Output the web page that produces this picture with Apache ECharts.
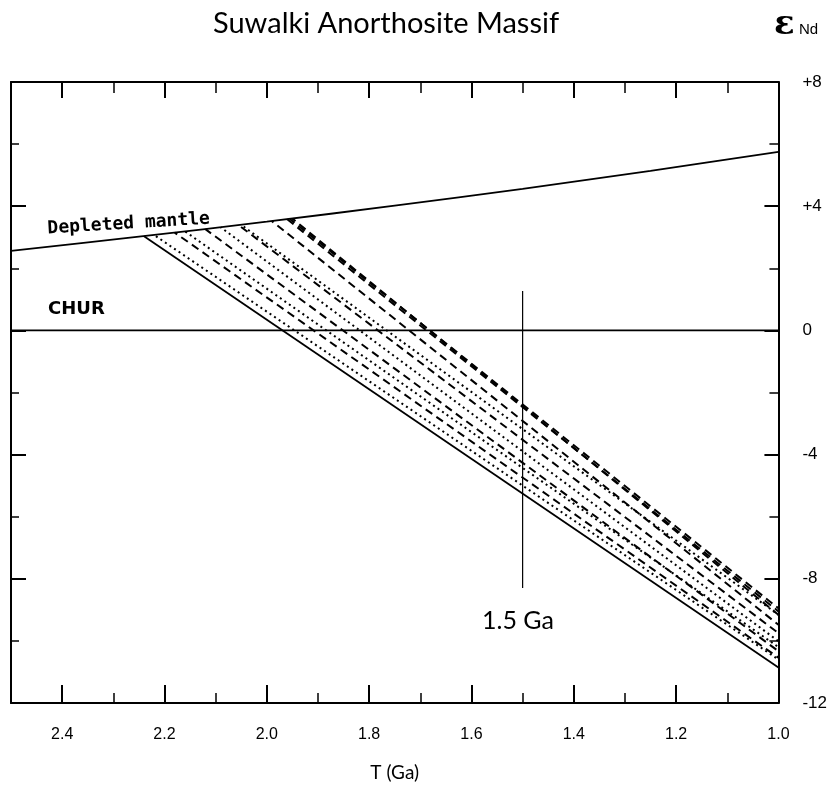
<!DOCTYPE html>
<html><head><meta charset="utf-8">
<script src="https://cdn.jsdelivr.net/npm/echarts@6/dist/echarts.min.js"></script>
<style>html,body{margin:0;padding:0;background:#fff}#c{width:830px;height:787px}</style>
</head><body><div id="c"></div>
<script>
// ---- data ----
const dmT   = [2.5, 2.25, 2.0, 1.75, 1.5, 1.25, 1.0];        // depleted mantle curve, T (Ga)
const dmEps = [2.56, 3.02, 3.5, 4.02, 4.56, 5.14, 5.75];     // eps Nd
const churT = [2.5, 1.0];
const churEps = [0, 0];
const refT = [1.5, 1.5];                                     // 1.5 Ga marker line
const refEps = [1.27, -8.3];
// sample evolution lines: start on DM curve, end at T = 1.0 Ga
const startT   = [1.96, 1.955, 1.95, 1.99, 2.05, 2.055, 2.09, 2.12, 2.16, 2.18, 2.22, 2.24];
const startEps = [3.58, 3.59, 3.60, 3.52, 3.40, 3.39, 3.32, 3.26, 3.19, 3.15, 3.07, 3.03];
const endT     = [1.0, 1.0, 1.0, 1.0, 1.0, 1.0, 1.0, 1.0, 1.0, 1.0, 1.0, 1.0];
const endEps   = [-9.05, -8.95, -9.16, -9.48, -9.16, -9.75, -10.01, -10.33, -10.2, -10.54, -10.6, -10.86];
const lineGroup = ['A', 'A', 'A', 'A', 'B', 'A', 'B', 'A', 'B', 'A', 'B', 'C'];
const yTickLabels = [-12, -8, -4, 0, 4, 8];

// ---- styles ----
const groupStyle = {
  A: {type: [8, 5], width: 2},
  B: {type: [2, 3.5], width: 2},
  C: {type: 'solid', width: 1.8}
};
const ink = '#000';

const chart = echarts.init(document.getElementById('c'), null, {renderer: 'canvas'});

const baseX = {type: 'value', min: 1.0, max: 2.5, inverse: true, splitLine: {show: false},
  axisLine: {onZero: false, lineStyle: {color: ink, width: 2}}};
const baseY = {type: 'value', min: -12, max: 8, splitLine: {show: false},
  axisLine: {onZero: false, lineStyle: {color: ink, width: 2}}};

const xAxis = [
  Object.assign({}, baseX, {position: 'bottom', interval: 0.2,
    axisTick: {inside: true, length: 18, lineStyle: {color: ink, width: 2}},
    axisLabel: {color: ink, fontSize: 16, fontFamily: 'Liberation Sans', margin: 24,
      formatter: v => (v > 2.45 ? '' : v.toFixed(1))},
    name: 'T (Ga)', nameLocation: 'middle', nameGap: 60,
    nameTextStyle: {color: ink, fontSize: 19, fontFamily: 'Lato'}}),
  Object.assign({}, baseX, {position: 'bottom', interval: 0.1,
    axisTick: {inside: true, length: 10, lineStyle: {color: ink, width: 1.5}},
    axisLabel: {show: false}, axisLine: {show: false, onZero: false}}),
  Object.assign({}, baseX, {position: 'top', interval: 0.2,
    axisTick: {inside: true, length: 16, lineStyle: {color: ink, width: 2}},
    axisLabel: {show: false}}),
  Object.assign({}, baseX, {position: 'top', interval: 0.1,
    axisTick: {inside: true, length: 11, lineStyle: {color: ink, width: 1.5}},
    axisLabel: {show: false}, axisLine: {show: false, onZero: false}})
];
const yAxis = [
  Object.assign({}, baseY, {position: 'left', interval: 4,
    axisTick: {inside: true, length: 15, lineStyle: {color: ink, width: 2}},
    axisLabel: {show: false}}),
  Object.assign({}, baseY, {position: 'left', interval: 2,
    axisTick: {inside: true, length: 8, lineStyle: {color: ink, width: 1.5}},
    axisLabel: {show: false}, axisLine: {show: false, onZero: false}}),
  Object.assign({}, baseY, {position: 'right', interval: 4,
    axisTick: {inside: true, length: 14, lineStyle: {color: ink, width: 2}},
    axisLabel: {color: ink, fontSize: 17, fontFamily: 'Liberation Sans', margin: 24, align: 'left',
      formatter: v => (yTickLabels.indexOf(v) < 0 ? '' : (v > 0 ? '+' + v : String(v)))}}),
  Object.assign({}, baseY, {position: 'right', interval: 2,
    axisTick: {inside: true, length: 9, lineStyle: {color: ink, width: 1.5}},
    axisLabel: {show: false}, axisLine: {show: false, onZero: false}})
];

const zip = (a, b) => a.map((v, i) => [v, b[i]]);
const series = [
  {type: 'line', data: zip(dmT, dmEps), smooth: 0.3, symbol: 'none',
   lineStyle: {color: ink, width: 1.8}},
  {type: 'line', data: zip(churT, churEps), symbol: 'none', lineStyle: {color: ink, width: 1.8}},
  {type: 'line', data: zip(refT, refEps), symbol: 'none', lineStyle: {color: ink, width: 1.2}}
];
startT.forEach((t, i) => {
  const st = groupStyle[lineGroup[i]];
  series.push({type: 'line', symbol: 'none', silent: true,
    data: [[t, startEps[i]], [endT[i], endEps[i]]],
    lineStyle: {color: ink, width: st.width, type: st.type, cap: 'butt', dashOffset: i * 2}});
});

chart.setOption({
  animation: false,
  backgroundColor: '#fff',
  grid: {left: 11, right: 50, top: 82, bottom: 78},
  xAxis: xAxis,
  yAxis: yAxis,
  series: series,
  graphic: [
    {type: 'text', left: 213, top: 9, style: {text: 'Suwalki Anorthosite Massif',
      fontSize: 29, fontFamily: 'Lato', fill: ink}},
    {type: 'text', left: 774, top: 8, style: {text: 'ε', fontSize: 34, fontWeight: 'bold',
      fontFamily: 'DejaVu Serif', fill: ink}},
    {type: 'text', left: 799, top: 22, style: {text: 'Nd', fontSize: 15, fontFamily: 'Liberation Sans', fill: ink}},
    {type: 'text', left: 47, top: 210, rotation: 0.06, style: {text: 'Depleted mantle',
      fontSize: 18, fontWeight: 'bold', fontFamily: 'DejaVu Sans Mono', fill: ink}},
    {type: 'text', left: 48, top: 300, style: {text: 'CHUR',
      fontSize: 18, fontWeight: 'bold', fontFamily: 'DejaVu Sans', fill: ink}},
    {type: 'text', left: 482, top: 608, style: {text: '1.5 Ga',
      fontSize: 25, fontFamily: 'Lato', fill: ink}}
  ]
});
</script></body></html>
